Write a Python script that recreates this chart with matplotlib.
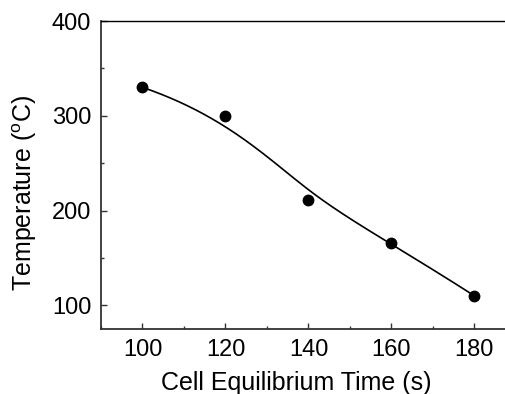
import numpy as np
import matplotlib
matplotlib.use("Agg")
import matplotlib.pyplot as plt
from matplotlib.ticker import MultipleLocator

time_s = [100, 120, 140, 160, 180]
temperature_c = [330, 300, 211, 166, 110]

plt.rcParams['font.family'] = ['Liberation Sans', 'DejaVu Sans']


def bspline(px, py, k=3, n=300):
    """Clamped uniform B-spline using the data points as control points."""
    px = np.asarray(px, float)
    py = np.asarray(py, float)
    m = len(px)
    inner = np.linspace(0, 1, m - k + 1)
    t = np.concatenate([[0] * k, inner, [1] * k])
    u = np.linspace(0, 1, n)
    u[-1] -= 1e-9

    def basis(i, p, u):
        if p == 0:
            return ((t[i] <= u) & (u < t[i + 1])).astype(float)
        a = 0.0
        b = 0.0
        if t[i + p] != t[i]:
            a = (u - t[i]) / (t[i + p] - t[i]) * basis(i, p - 1, u)
        if t[i + p + 1] != t[i + 1]:
            b = (t[i + p + 1] - u) / (t[i + p + 1] - t[i + 1]) * basis(i + 1, p - 1, u)
        return a + b

    B = np.array([basis(i, k, u) for i in range(m)])
    return B.T @ px, B.T @ py


fig = plt.figure(figsize=(5.06, 3.94), dpi=100)
ax = fig.add_axes([0.1996, 0.165, 0.82, 0.7817])

cx, cy = bspline(time_s, temperature_c)
ax.plot(cx, cy, color='black', lw=1.2)
ax.plot(time_s, temperature_c, 'o', color='black', markersize=7.5)

ax.set_xlim(90, 190)
ax.set_ylim(75, 400)
ax.xaxis.set_major_locator(MultipleLocator(20))
ax.xaxis.set_minor_locator(MultipleLocator(10))
ax.yaxis.set_major_locator(MultipleLocator(100))
ax.yaxis.set_minor_locator(MultipleLocator(50))

ax.tick_params(which='both', direction='in', top=False, right=False,
               labelsize=17, color='#333333')
ax.tick_params(which='major', length=4, width=1)
ax.tick_params(which='minor', length=2.5, width=1)
ax.tick_params(axis='x', pad=7)
ax.tick_params(axis='y', pad=7)

for s in ax.spines.values():
    s.set_linewidth(1.3)
    s.set_color('#333333')
ax.spines['top'].set_color('black')
ax.spines['top'].set_linewidth(1.0)

ax.set_xlabel('Cell Equilibrium Time (s)', fontsize=18)
ax.set_ylabel('Temperature ($^{\\mathregular{o}}$C)', fontsize=18)
ax.xaxis.set_label_coords(0.47, -0.135)
ax.yaxis.set_label_coords(-0.149, 0.44)

fig.savefig('out.png', dpi=100)
